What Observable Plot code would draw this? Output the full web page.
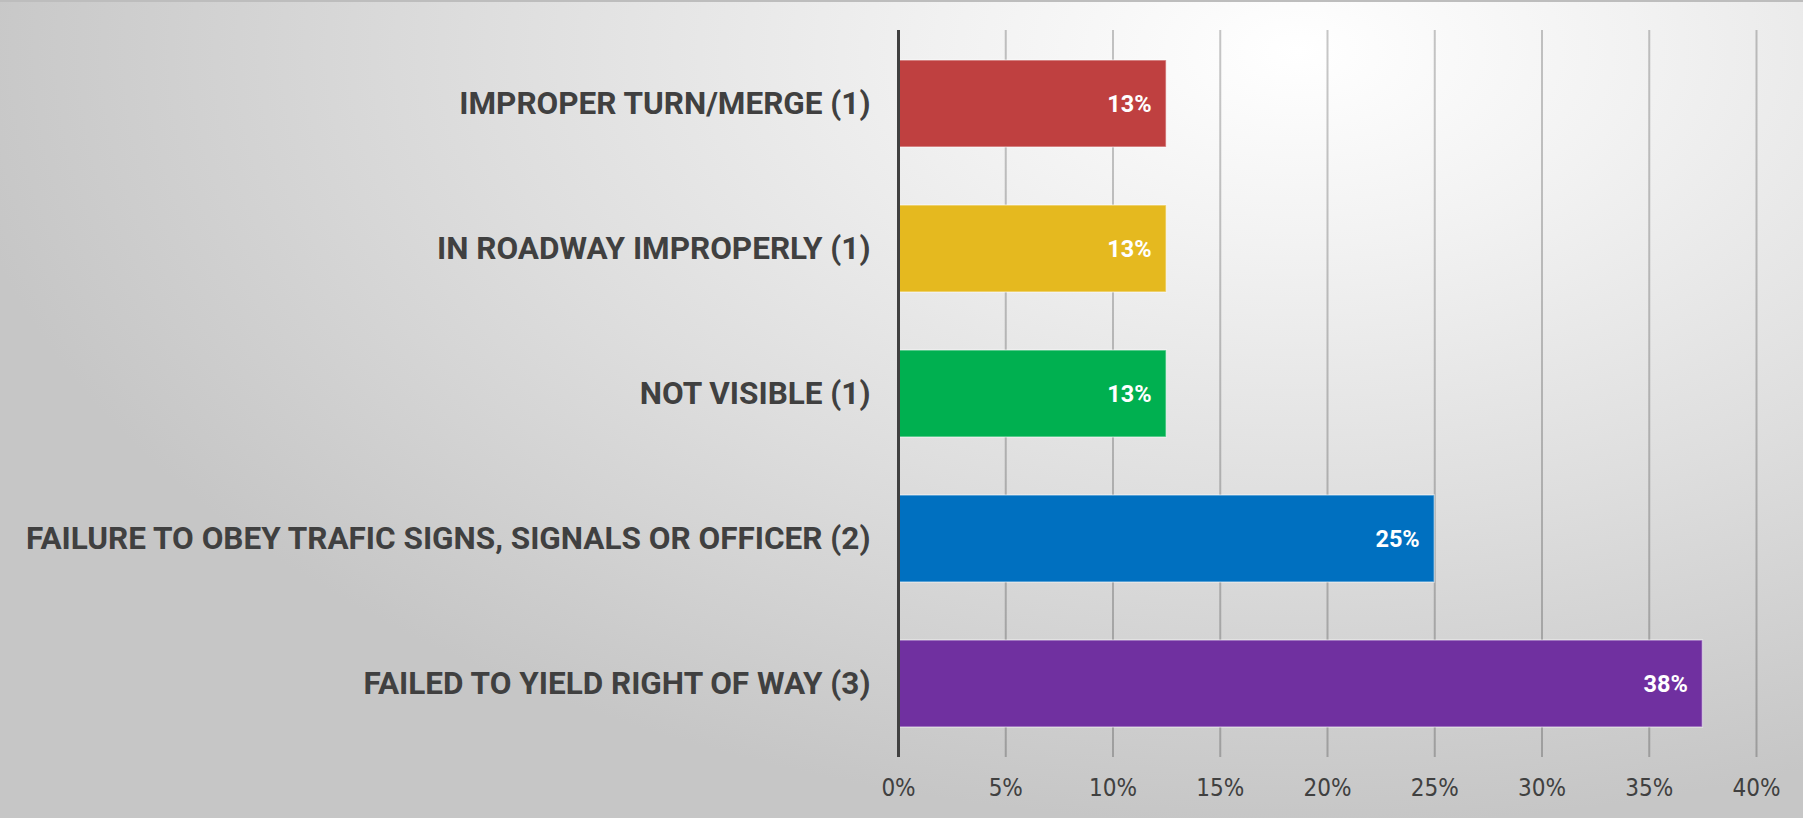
<!DOCTYPE html>
<html>
<head>
<meta charset="utf-8">
<script src="https://cdn.jsdelivr.net/npm/d3@7"></script>
<script src="https://cdn.jsdelivr.net/npm/@observablehq/plot@0.6"></script>
<style>
  html, body { margin: 0; padding: 0; }
  #chart {
    width: 1803px; height: 818px; position: relative; overflow: hidden;
    background: radial-gradient(ellipse 75% 95% at 72% 6%, #ffffff 0%, #f2f2f2 25%, #dedede 60%, #c6c6c6 100%);
    border-top: 2px solid #bdbdbd; box-sizing: border-box;
  }
  #chart svg { position: absolute; left: 0; top: -2px; }
  .ylab text { font-family: Roboto, "Open Sans", sans-serif; font-weight: 700; }
  .xlab text { font-family: "Liberation Sans Narrow", "DejaVu Sans Condensed", sans-serif; }
</style>
</head>
<body>
<div id="chart"></div>
<script>
const categories = [
  "IMPROPER TURN/MERGE (1)",
  "IN ROADWAY IMPROPERLY (1)",
  "NOT VISIBLE (1)",
  "FAILURE TO OBEY TRAFIC SIGNS, SIGNALS OR OFFICER (2)",
  "FAILED TO YIELD RIGHT OF WAY (3)"
];
const values = [12.5, 12.5, 12.5, 25, 37.5];
const valueLabels = ["13%", "13%", "13%", "25%", "38%"];
const colors = ["#BF4040", "#E5B91F", "#00B050", "#0070C0", "#7030A0"];
const xTicks = [0, 5, 10, 15, 20, 25, 30, 35, 40];

const data = categories.map((c, i) => ({cat: c, value: values[i], label: valueLabels[i], color: colors[i]}));

const plot = Plot.plot({
  width: 1803,
  height: 818,
  marginTop: 30,
  marginBottom: 61,
  marginLeft: 898,
  marginRight: 47,
  style: {background: "transparent", color: "#404040"},
  x: {domain: [0, 40], ticks: xTicks, tickFormat: d => d + "%"},
  y: {domain: categories, paddingInner: 0.4, paddingOuter: 0.2},
  color: {type: "identity"},
  marks: [
    Plot.gridX(xTicks, {stroke: "#000", strokeOpacity: 0.22, strokeWidth: 2}),
    Plot.axisX({ticks: xTicks, tickFormat: d => d + "%", tickSize: 0, tickPadding: 21, fontSize: 24, fill: "#404040", className: "xlab", label: null}),
    Plot.axisY({tickSize: 0, tickPadding: 28, fontSize: 31.5, fill: "#404040", className: "ylab", label: null}),
    Plot.barX(data, {y: "cat", x: "value", fill: "color", stroke: "#ffffff", strokeOpacity: 0.45, strokeWidth: 1.5}),
    Plot.text(data, {y: "cat", x: "value", text: "label", textAnchor: "end", dx: -15, fill: "white", fontSize: 23.5, fontWeight: "bold", fontFamily: "Roboto, sans-serif"}),
    Plot.ruleX([0], {stroke: "#404040", strokeWidth: 3})
  ]
});
document.getElementById("chart").appendChild(plot);
</script>
</body>
</html>
